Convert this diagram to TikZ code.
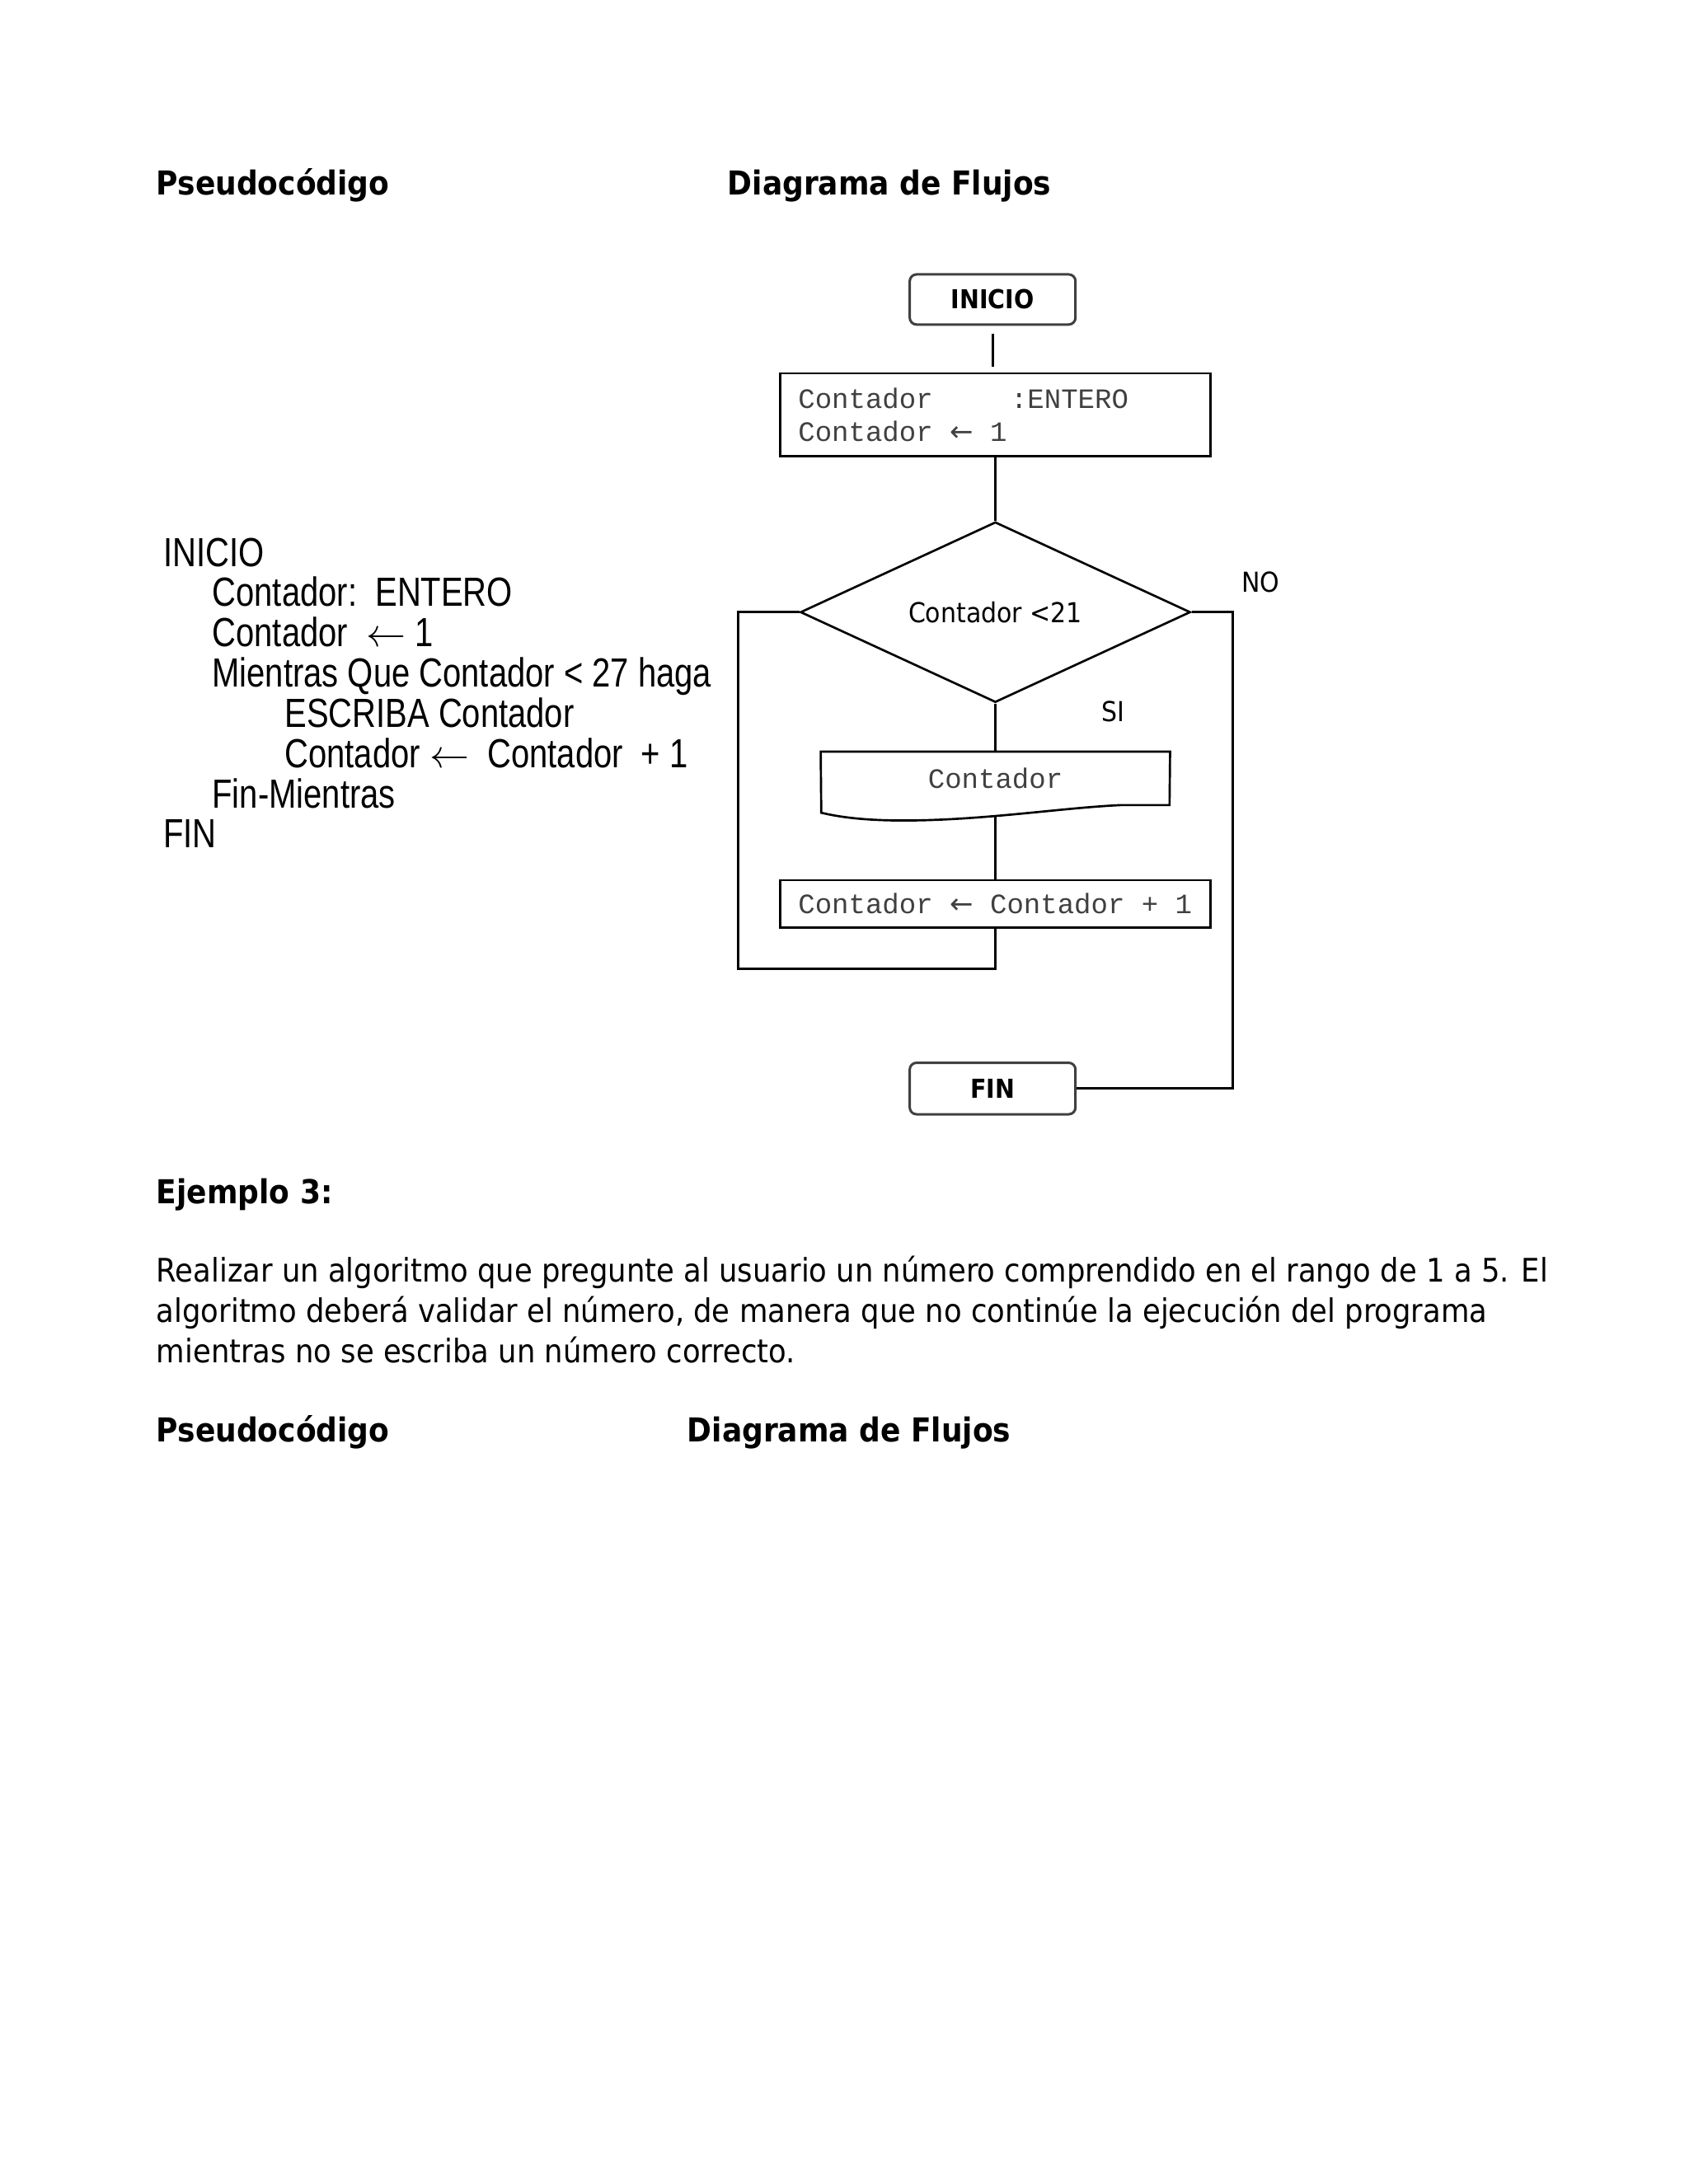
\documentclass[tikz,border=0pt]{standalone}
\usepackage{fontspec}
\setmainfont{DejaVu Sans Condensed}
\newfontfamily\pseudofont[FakeStretch=0.81]{Liberation Sans}
\newfontfamily\flechafont{DejaVu Sans}
\newfontfamily\codefont{Liberation Mono}
\usetikzlibrary{shapes.geometric, positioning}
\newcommand{\unid}{0.017814cm}
% una celda del texto monoespaciado
\newcommand{\celda}{\hspace*{6.12pt}}
\newcommand{\flecha}{\ensuremath{\leftarrow}}
\newcommand{\flechacod}{{\flechafont ←}}

\tikzset{
  titulo/.style={anchor=base west, inner sep=0pt, font=\fontsize{12}{14.5}\selectfont\bfseries},
  parrafo/.style={anchor=base west, inner sep=0pt, font=\fontsize{11.8}{14.5}\selectfont},
  pseudo/.style={anchor=base west, inner sep=0pt, font=\pseudofont\fontsize{14.8}{17}\selectfont},
  terminal/.style={draw=black!75, line width=0.9pt, rounded corners=2.5pt, minimum width=119*\unid,
    minimum height=36*\unid, inner sep=0pt, font=\fontsize{9.5}{12}\selectfont\bfseries},
  proceso/.style={draw, line width=0.8pt, text width=283*\unid, inner xsep=13*\unid, inner ysep=0pt,
    align=left, font=\codefont\fontsize{10.2}{11.9}\selectfont, text=black!75},
  decision/.style={draw, shape=diamond, aspect=2.17, line width=0.8pt, minimum width=280*\unid,
    minimum height=129.5*\unid, inner sep=0pt, font=\fontsize{10}{12}\selectfont},
  etiqueta/.style={inner sep=0pt, font=\fontsize{10}{12}\selectfont},
  linea/.style={line width=0.8pt}
}

\begin{document}
\begin{tikzpicture}[x=\unid, y=-\unid]
\useasboundingbox (0,0) rectangle (1212,1568);

% encabezados
\node[titulo] (tpseudo) at (112,140) {Pseudocódigo};
\node[titulo] (tdiag) at (522,140) {Diagrama de Flujos};

% pseudocodigo
\node[pseudo] (p1) at (117,406.5) {INICIO};
\node[pseudo] (p2) at (152,435.4) {Contador:\ \ ENTERO};
\node[pseudo] (p3) at (152,464.3) {Contador\ \ \flecha\ 1};
\node[pseudo] (p4) at (152,493.2) {Mientras Que Contador < 27 haga};
\node[pseudo] (p5) at (204,522.1) {ESCRIBA Contador};
\node[pseudo] (p6) at (204,551) {Contador \flecha\ \ Contador\ \ + 1};
\node[pseudo] (p7) at (152,579.9) {Fin-Mientras};
\node[pseudo] (p8) at (117,608.8) {FIN};

% diagrama de flujo
\node[terminal] (inicio) at (712.5,215) {INICIO};
\node[proceso, minimum height=59.5*\unid] (init) at (714.5,297.7)
  {Contador\celda\celda\celda\celda\hspace*{3.8pt}:ENTERO\\Contador\celda\flechacod\celda1};
\node[decision] (dec) at (714.5,439.5) {Contador <21};
\node[inner sep=0pt, minimum width=250*\unid, minimum height=38*\unid,
  font=\codefont\fontsize{10.2}{12}\selectfont, text=black!75] (salida) at (714.5,559) {Contador};
\coordinate (salidab) at (714.5,585.3);
\node[proceso, minimum height=34*\unid] (incr) at (714.5,649)
  {Contador\celda\flechacod\celda Contador\celda+\celda1};
\node[terminal, minimum height=37*\unid] (fin) at (712.5,781.5) {FIN};

% forma de salida
\draw[linea] (salida.north west) -- (salida.north east) -- (839.5,578) -- (805,578)
  .. controls (760,580) and (700,590) .. (640,589)
  .. controls (615,588.5) and (600,586) .. (589.5,583.5) -- cycle;

\node[etiqueta] (lblno) at (905,418) {NO};
\node[etiqueta] (lblsi) at (799,511) {SI};

\coordinate (lazo) at (530,695.5);
\coordinate (salto) at (885,439.5);

\draw[linea, shorten <=6*\unid, shorten >=4*\unid] (inicio.south) -- (inicio.south |- init.north);
\draw[linea] (init.south) -- (dec.north);
\draw[linea] (dec.south) -- (salida.north);
\draw[linea] (salidab) -- (incr.north);
\draw[linea] (incr.south) |- (lazo) |- (dec.west);
\draw[linea] (dec.east) -- (salto) |- (fin.east);

% ejemplo 3
\node[titulo] (tej) at (112,864) {Ejemplo 3:};
\node[parrafo] (linea1) at (112,920.5) {Realizar un algoritmo que pregunte al usuario un número comprendido en el rango de 1 a 5. El};
\node[parrafo] (linea2) at (112,949.5) {algoritmo deberá validar el número, de manera que no continúe la ejecución del programa};
\node[parrafo] (linea3) at (112,978.5) {mientras no se escriba un número correcto.};
\node[titulo] (tpseudo2) at (112,1035) {Pseudocódigo};
\node[titulo] (tdiag2) at (493,1035) {Diagrama de Flujos};
\end{tikzpicture}
\end{document}
